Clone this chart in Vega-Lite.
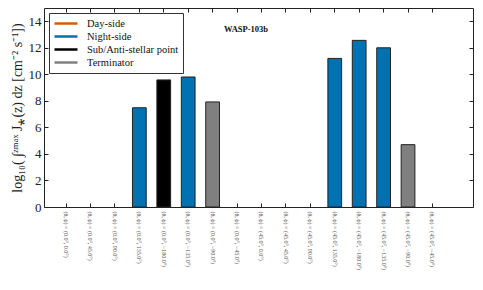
{
  "$schema": "https://vega.github.io/schema/vega-lite/v6.json",
  "width": 429,
  "height": 199,
  "autosize": {"type": "none"},
  "padding": {"left": 44, "top": 8, "right": 10, "bottom": 83},
  "background": "white",
  "config": {
    "view": {"stroke": "#222", "strokeWidth": 1},
    "font": "Liberation Serif",
    "axis": {"labelFont": "Liberation Serif", "titleFont": "Liberation Serif", "grid": false, "domain": false, "tickColor": "#222", "labelColor": "#222", "titleColor": "#222", "titleFontWeight": "normal"}
  },
  "data": {
    "values": [
      {"label": "(θ, ϕ) = (0.0°, 0.0°)", "value": null, "side": null},
      {"label": "(θ, ϕ) = (0.0°, 45.0°)", "value": null, "side": null},
      {"label": "(θ, ϕ) = (0.0°, 90.0°)", "value": null, "side": null},
      {"label": "(θ, ϕ) = (0.0°, 135.0°)", "value": 7.48, "side": "Night-side"},
      {"label": "(θ, ϕ) = (0.0°, −180.0°)", "value": 9.58, "side": "Sub/Anti-stellar point"},
      {"label": "(θ, ϕ) = (0.0°, −135.0°)", "value": 9.8, "side": "Night-side"},
      {"label": "(θ, ϕ) = (0.0°, −90.0°)", "value": 7.92, "side": "Terminator"},
      {"label": "(θ, ϕ) = (0.0°, −45.0°)", "value": null, "side": null},
      {"label": "(θ, ϕ) = (45.0°, 0.0°)", "value": null, "side": null},
      {"label": "(θ, ϕ) = (45.0°, 45.0°)", "value": null, "side": null},
      {"label": "(θ, ϕ) = (45.0°, 90.0°)", "value": null, "side": null},
      {"label": "(θ, ϕ) = (45.0°, 135.0°)", "value": 11.2, "side": "Night-side"},
      {"label": "(θ, ϕ) = (45.0°, −180.0°)", "value": 12.56, "side": "Night-side"},
      {"label": "(θ, ϕ) = (45.0°, −135.0°)", "value": 12.0, "side": "Night-side"},
      {"label": "(θ, ϕ) = (45.0°, −90.0°)", "value": 4.7, "side": "Terminator"},
      {"label": "(θ, ϕ) = (45.0°, −45.0°)", "value": null, "side": null}
    ]
  },
  "layer": [
    {
      "mark": {"type": "bar"},
      "encoding": {
        "x": {
          "field": "label", "type": "nominal", "sort": null,
          "scale": {
            "domain": ["(θ, ϕ) = (0.0°, 0.0°)", "(θ, ϕ) = (0.0°, 45.0°)", "(θ, ϕ) = (0.0°, 90.0°)", "(θ, ϕ) = (0.0°, 135.0°)", "(θ, ϕ) = (0.0°, −180.0°)", "(θ, ϕ) = (0.0°, −135.0°)", "(θ, ϕ) = (0.0°, −90.0°)", "(θ, ϕ) = (0.0°, −45.0°)", "(θ, ϕ) = (45.0°, 0.0°)", "(θ, ϕ) = (45.0°, 45.0°)", "(θ, ϕ) = (45.0°, 90.0°)", "(θ, ϕ) = (45.0°, 135.0°)", "(θ, ϕ) = (45.0°, −180.0°)", "(θ, ϕ) = (45.0°, −135.0°)", "(θ, ϕ) = (45.0°, −90.0°)", "(θ, ϕ) = (45.0°, −45.0°)"],
            "paddingInner": 0.4375, "paddingOuter": 1.15625, "align": 0.3108, "round": false
          },
          "axis": {"title": null, "orient": "bottom", "labelAngle": 90, "labelFontSize": 6, "labelColor": "#555", "tickSize": -4, "labelPadding": 8, "labelLimit": 200}
        },
        "y": {
          "field": "value", "type": "quantitative",
          "scale": {"domain": [0, 15], "nice": false},
          "axis": {"title": "log₁₀( ∫ᶻᵐᵃˣ J⁎(z) dz  [cm⁻² s⁻¹])", "values": [0, 2, 4, 6, 8, 10, 12, 14], "labelFontSize": 13, "titleFontSize": 14, "tickSize": -4, "labelPadding": 7, "titlePadding": 4}
        },
        "color": {
          "field": "side", "type": "nominal",
          "scale": {"domain": ["Day-side", "Night-side", "Sub/Anti-stellar point", "Terminator"], "range": ["#D55E00", "#0072B2", "#000000", "#808080"]},
          "legend": {
            "title": null, "orient": "none", "legendX": 5, "legendY": 5,
            "strokeColor": "#333", "fillColor": "white", "padding": 4, "cornerRadius": 0,
            "symbolType": "stroke", "symbolSize": 529, "symbolStrokeWidth": 2.5,
            "labelFont": "Liberation Serif", "labelFontSize": 10.5, "labelColor": "#111", "rowPadding": 0, "clipHeight": 13, "labelOffset": 8,
            "encode": {"symbols": {"update": {"stroke": {"scale": "color", "field": "value"}, "strokeWidth": {"value": 2.5}}}}
          }
        }
      }
    },
    {
      "mark": {"type": "bar", "fill": null, "fillOpacity": 0, "stroke": "#222", "strokeWidth": 1},
      "encoding": {
        "x": {"field": "label", "type": "nominal", "sort": null, "axis": {"orient": "top", "labels": false, "title": null, "tickSize": -4}},
        "y": {"field": "value", "type": "quantitative", "axis": {"orient": "right", "labels": false, "title": null, "tickSize": -4, "values": [0, 2, 4, 6, 8, 10, 12, 14]}}
      }
    },
    {
      "data": {"values": [{"name": "WASP-103b"}]},
      "mark": {"type": "text", "fontWeight": "bold", "fontSize": 8.5, "font": "Liberation Serif", "dx": 9, "color": "#111"},
      "encoding": {
        "x": {"datum": "(θ, ϕ) = (0.0°, −45.0°)", "type": "nominal", "axis": null},
        "y": {"datum": 13.4, "type": "quantitative", "axis": null},
        "text": {"field": "name", "type": "nominal"}
      }
    }
  ],
  "resolve": {"axis": {"x": "independent", "y": "independent"}}
}
